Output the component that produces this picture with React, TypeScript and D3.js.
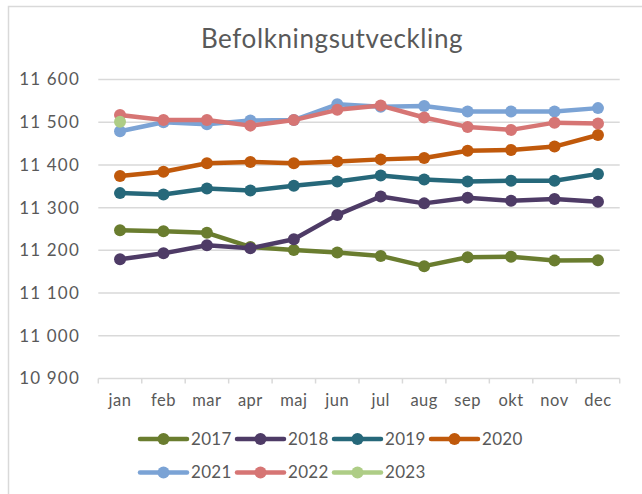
import React from "react";
import * as d3 from "d3";

const months = ["jan", "feb", "mar", "apr", "maj", "jun", "jul", "aug", "sep", "okt", "nov", "dec"];
const yTicks = [10900, 11000, 11100, 11200, 11300, 11400, 11500, 11600];
const yTickLabels = ["10 900", "11 000", "11 100", "11 200", "11 300", "11 400", "11 500", "11 600"];

const s2017 = [11247, 11245, 11241, 11208, 11201, 11195, 11187, 11163, 11184, 11185, 11176, 11177];
const s2018 = [11179, 11193, 11212, 11205, 11226, 11283, 11326, 11310, 11323, 11316, 11320, 11314];
const s2019 = [11334, 11331, 11345, 11340, 11351, 11361, 11375, 11366, 11361, 11363, 11363, 11379];
const s2020 = [11374, 11384, 11404, 11407, 11404, 11408, 11413, 11416, 11433, 11435, 11443, 11470];
const s2021 = [11479, 11500, 11495, 11504, 11505, 11542, 11536, 11538, 11525, 11525, 11525, 11533];
const s2022 = [11517, 11505, 11505, 11492, 11505, 11529, 11539, 11511, 11489, 11482, 11499, 11497];
const s2023 = [11501];

const seriesNames = ["2017", "2018", "2019", "2020", "2021", "2022", "2023"];
const seriesValues = [s2017, s2018, s2019, s2020, s2021, s2022, s2023];
const seriesColors = ["#6A7D2F", "#4E3B66", "#26687A", "#C0590B", "#7BA3D5", "#D67574", "#AECD86"];

const W = 642;
const H = 494;
const FONT = "Lato, 'Open Sans', sans-serif";
const TEXT = "#595959";
const GRID = "#d9d9d9";

export default function App() {
  const left = 98.3;
  const right = 619.7;
  const top = 79.5;
  const bottom = 378.5;

  const x = d3.scaleBand<string>().domain(months).range([left, right]).paddingInner(0).paddingOuter(0);
  const cx = (m: string) => (x(m) as number) + x.bandwidth() / 2;
  const y = d3.scaleLinear().domain([10900, 11600]).range([bottom, top]);

  const line = d3
    .line<number>()
    .x((_, i) => cx(months[i]))
    .y((d) => y(d));

  const boundaries = months.map((m) => x(m) as number).concat([right]);

  return (
    <svg width={W} height={H} style={{ position: "absolute", left: 0, top: 0, display: "block" }}>
      <rect x={0} y={0} width={W} height={H} fill="#fff" />
      <rect x={8.5} y={6.5} width={W + 10} height={H + 10} fill="none" stroke={GRID} strokeWidth={1.5} />
      <text x={332} y={48} textAnchor="middle" fontFamily={FONT} fontSize={26} letterSpacing={0.6} fill={TEXT}>
        Befolkningsutveckling
      </text>

      {yTicks.map((t, i) => (
        <g key={t}>
          <line x1={left} x2={right} y1={y(t)} y2={y(t)} stroke={GRID} strokeWidth={1.5} />
          <text x={80} y={y(t)} dy="0.35em" textAnchor="end" fontFamily={FONT} fontSize={17} letterSpacing={1.2} fill={TEXT}>
            {yTickLabels[i]}
          </text>
        </g>
      ))}

      {boundaries.map((b, i) => (
        <line key={i} x1={b} x2={b} y1={bottom} y2={bottom + 5} stroke={GRID} strokeWidth={1.5} />
      ))}

      {months.map((m) => (
        <text key={m} x={cx(m)} y={406} textAnchor="middle" fontFamily={FONT} fontSize={16.5} letterSpacing={0.5} fill={TEXT}>
          {m}
        </text>
      ))}

      {seriesValues.map((vals, si) => (
        <g key={seriesNames[si]}>
          <path d={line(vals) || ""} fill="none" stroke={seriesColors[si]} strokeWidth={4.5} strokeLinejoin="round" strokeLinecap="round" />
          {vals.map((v, i) => (
            <circle key={i} cx={cx(months[i])} cy={y(v)} r={6} fill={seriesColors[si]} />
          ))}
        </g>
      ))}

      {seriesNames.map((name, i) => {
        const row = i < 4 ? 0 : 1;
        const col = i < 4 ? i : i - 4;
        const x0 = 140 + col * 97;
        const yy = row === 0 ? 439 : 472.5;
        return (
          <g key={name}>
            <line x1={x0} x2={x0 + 47} y1={yy} y2={yy} stroke={seriesColors[i]} strokeWidth={4.5} strokeLinecap="round" />
            <circle cx={x0 + 23.5} cy={yy} r={6} fill={seriesColors[i]} />
            <text x={x0 + 51} y={yy} dy="0.35em" fontFamily={FONT} fontSize={17} letterSpacing={0.3} fill={TEXT}>
              {name}
            </text>
          </g>
        );
      })}
    </svg>
  );
}
